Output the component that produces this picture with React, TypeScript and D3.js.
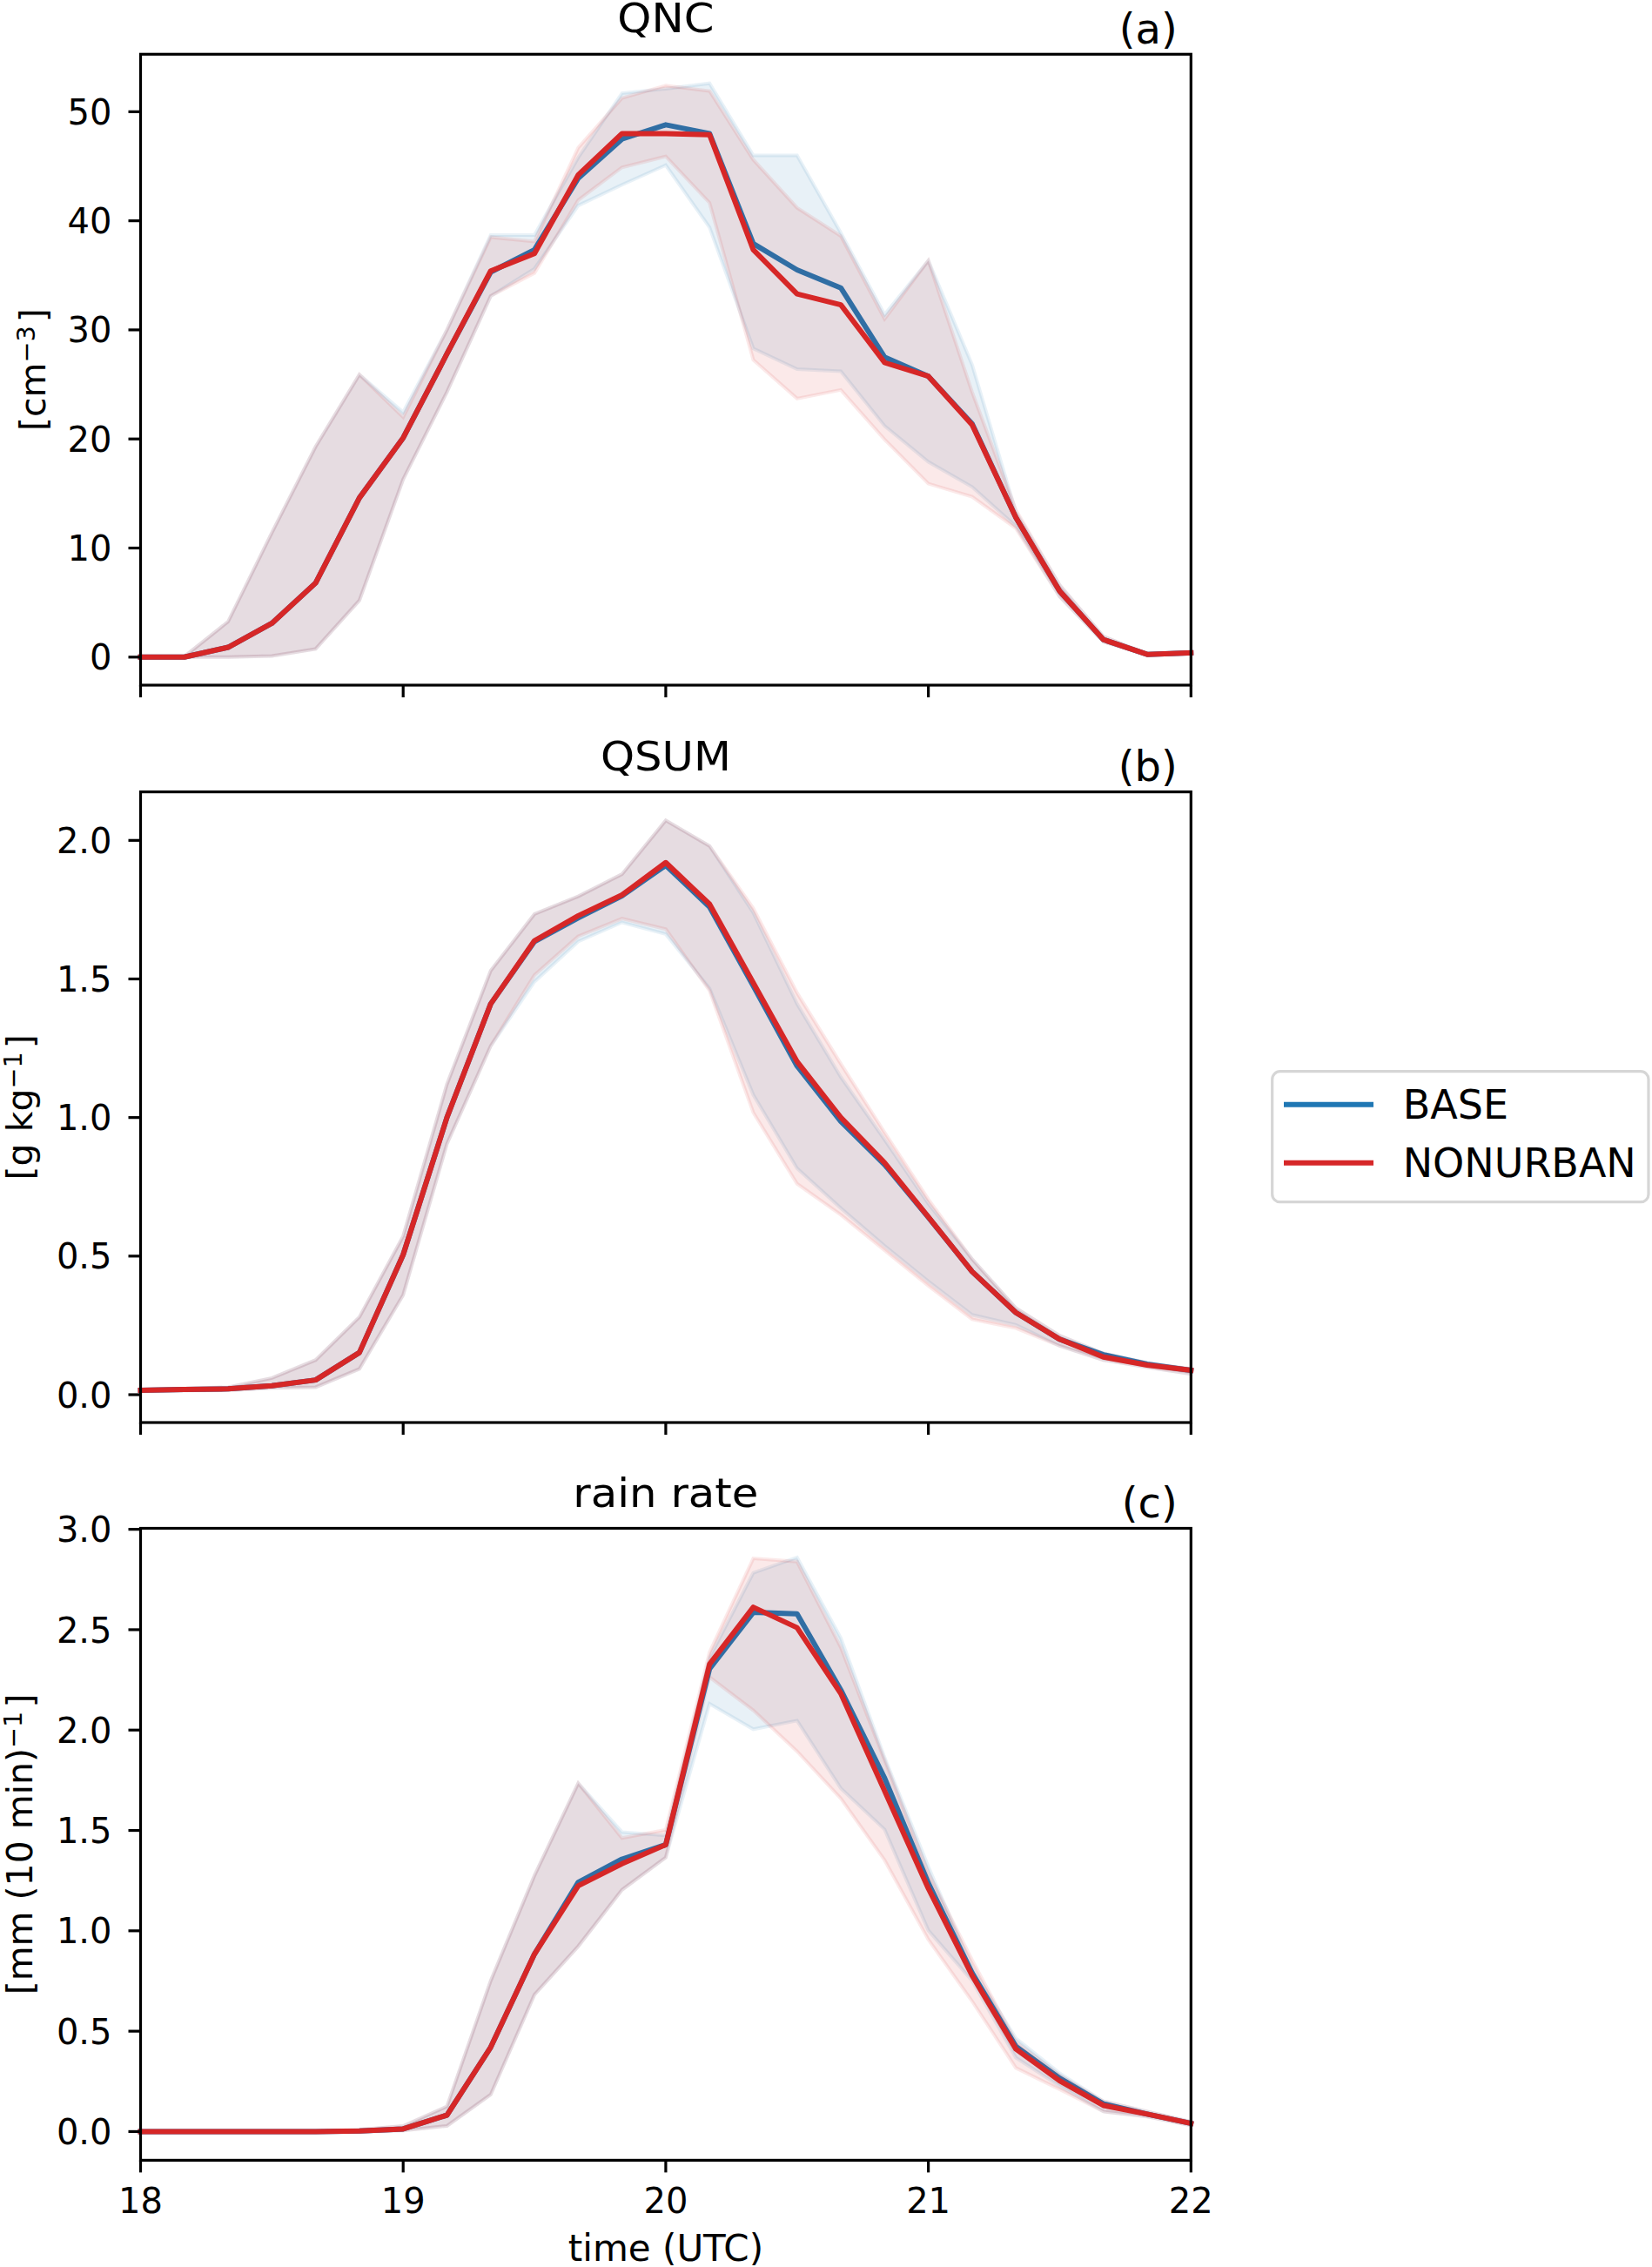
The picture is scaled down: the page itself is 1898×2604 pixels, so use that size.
import React from 'react';
import * as d3 from 'd3';

// ---------- data (10-minute steps from 18:00 UTC) ----------
const minutes = [0, 10, 20, 30, 40, 50, 60, 70, 80, 90, 100, 110, 120, 130, 140, 150, 160, 170, 180, 190, 200, 210, 220, 230, 240];

const seriesNames = ['BASE', 'NONURBAN'];
const seriesColors = ['#1f77b4', '#d62728'];

// QNC [cm^-3]
const qncBase = [0, 0, 0.9, 3.1, 6.8, 14.6, 20.1, 27.8, 35.3, 37.35, 43.9, 47.5, 48.8, 48.0, 37.9, 35.5, 33.85, 27.5, 25.75, 21.4, 12.8, 6.05, 1.6, 0.25, 0.4];
const qncNon = [0, 0, 0.9, 3.1, 6.8, 14.6, 20.1, 27.8, 35.4, 37.0, 44.2, 48.0, 48.0, 47.9, 37.35, 33.3, 32.3, 27.0, 25.75, 21.3, 12.8, 6.05, 1.6, 0.25, 0.4];
const qncBaseHi = [0, 0.05, 3.25, 11.4, 19.3, 25.9, 22.45, 30.0, 38.7, 38.7, 45.8, 51.7, 52.1, 52.6, 46.0, 46.0, 38.9, 31.4, 36.35, 26.8, 13.3, 6.6, 1.9, 0.3, 0.45];
const qncBaseLo = [0, 0, 0, 0.1, 0.75, 5.2, 16.3, 24.3, 33.1, 35.6, 41.4, 43.3, 45.1, 39.4, 28.3, 26.4, 26.2, 21.2, 17.9, 15.6, 12.0, 5.55, 1.4, 0.2, 0.35];
const qncNonHi = [0, 0.05, 3.25, 11.4, 19.3, 25.9, 22.0, 30.0, 38.5, 38.1, 46.7, 51.25, 52.4, 51.9, 45.6, 41.2, 38.6, 31.0, 36.35, 24.3, 13.5, 6.6, 1.9, 0.3, 0.45];
const qncNonLo = [0, 0, 0, 0.1, 0.75, 5.2, 16.3, 24.3, 33.1, 35.2, 41.9, 44.9, 45.9, 41.65, 27.25, 23.7, 24.5, 19.95, 15.9, 14.7, 11.8, 5.55, 1.4, 0.2, 0.35];

// QSUM [g kg^-1]
const qsumBase = [0.016, 0.019, 0.021, 0.032, 0.053, 0.152, 0.505, 1.0, 1.41, 1.635, 1.72, 1.8, 1.91, 1.76, 1.475, 1.186, 0.986, 0.83, 0.64, 0.444, 0.296, 0.2, 0.144, 0.11, 0.088];
const qsumNon = [0.016, 0.019, 0.021, 0.032, 0.053, 0.152, 0.505, 1.0, 1.41, 1.638, 1.728, 1.803, 1.92, 1.77, 1.486, 1.202, 1.0, 0.837, 0.641, 0.444, 0.296, 0.2, 0.136, 0.107, 0.088];
const qsumBaseHi = [0.02, 0.022, 0.027, 0.06, 0.125, 0.28, 0.572, 1.12, 1.53, 1.734, 1.798, 1.878, 2.072, 1.98, 1.739, 1.41, 1.146, 0.92, 0.689, 0.489, 0.3125, 0.213, 0.149, 0.115, 0.093];
const qsumBaseLo = [0.012, 0.015, 0.016, 0.024, 0.027, 0.093, 0.36, 0.905, 1.258, 1.49, 1.635, 1.704, 1.662, 1.466, 1.082, 0.817, 0.673, 0.537, 0.409, 0.288, 0.252, 0.176, 0.125, 0.099, 0.075];
const qsumNonHi = [0.02, 0.022, 0.027, 0.06, 0.125, 0.28, 0.572, 1.12, 1.53, 1.734, 1.798, 1.878, 2.072, 1.98, 1.755, 1.45, 1.194, 0.946, 0.705, 0.489, 0.3125, 0.213, 0.149, 0.115, 0.093];
const qsumNonLo = [0.012, 0.015, 0.016, 0.024, 0.027, 0.093, 0.36, 0.905, 1.258, 1.514, 1.654, 1.718, 1.68, 1.458, 1.018, 0.761, 0.649, 0.521, 0.393, 0.272, 0.24, 0.176, 0.125, 0.099, 0.075];

// rain rate [mm (10 min)^-1]
const rainBase = [0, 0, 0, 0, 0, 0.003, 0.013, 0.082, 0.42, 0.884, 1.242, 1.357, 1.429, 2.305, 2.586, 2.579, 2.2, 1.761, 1.237, 0.79, 0.424, 0.266, 0.138, 0.087, 0.041];
const rainNon = [0, 0, 0, 0, 0, 0.003, 0.013, 0.082, 0.42, 0.884, 1.224, 1.334, 1.429, 2.328, 2.612, 2.51, 2.182, 1.697, 1.211, 0.777, 0.411, 0.253, 0.13, 0.087, 0.041];
const rainBaseHi = [0, 0, 0, 0, 0, 0.01, 0.028, 0.125, 0.751, 1.275, 1.735, 1.492, 1.475, 2.361, 2.783, 2.86, 2.458, 1.863, 1.319, 0.815, 0.465, 0.291, 0.151, 0.1, 0.049];
const rainBaseLo = [0, 0, 0, 0, 0, 0, 0.005, 0.028, 0.184, 0.682, 0.923, 1.204, 1.365, 2.131, 2.004, 2.047, 1.71, 1.505, 1.002, 0.751, 0.368, 0.227, 0.1, 0.074, 0.031];
const rainNonHi = [0, 0, 0, 0, 0, 0.01, 0.028, 0.125, 0.751, 1.275, 1.735, 1.462, 1.503, 2.387, 2.855, 2.839, 2.412, 1.85, 1.288, 0.854, 0.445, 0.279, 0.151, 0.1, 0.049];
const rainNonLo = [0, 0, 0, 0, 0, 0, 0.005, 0.028, 0.184, 0.682, 0.923, 1.204, 1.365, 2.264, 2.098, 1.894, 1.659, 1.352, 0.956, 0.649, 0.317, 0.21, 0.1, 0.074, 0.031];

const xTicks = [18, 19, 20, 21, 22];
const qncTicks = [0, 10, 20, 30, 40, 50];
const qsumTicks = [0, 0.5, 1.0, 1.5, 2.0];
const rainTicks = [0, 0.5, 1.0, 1.5, 2.0, 2.5, 3.0];

const titles = ['QNC', 'QSUM', 'rain rate'];
const panelLetters = ['(a)', '(b)', '(c)'];

// ---------- layout ----------
const W = 1898;
const H = 2604;
const X0 = 161.5;
const X1 = 1368.3;
const FONT = "'DejaVu Sans', 'Liberation Sans', sans-serif";

type Panel = {
  top: number;
  bottom: number;
  domain: [number, number];
  ticks: number[];
  fmt: (v: number) => string;
  lines: number[][];
  his: number[][];
  los: number[][];
  ylabel: React.ReactNode;
  ylabelX: number;
};

const SUP = (s: string) => (
  <>
    <tspan dy="-0.42em" fontSize="0.7em">{s}</tspan>
    <tspan dy="0.3em">{'\u200A'}</tspan>
  </>
);

const panels: Panel[] = [
  {
    top: 62.3, bottom: 787, domain: [-2.57, 55.27], ticks: qncTicks, fmt: (v) => d3.format('d')(v),
    lines: [qncBase, qncNon], his: [qncBaseHi, qncNonHi], los: [qncBaseLo, qncNonLo],
    ylabel: (<>[cm{SUP('\u22123')}]</>), ylabelX: 52,
  },
  {
    top: 909.6, bottom: 1634, domain: [-0.1005, 2.175], ticks: qsumTicks, fmt: (v) => d3.format('.1f')(v),
    lines: [qsumBase, qsumNon], his: [qsumBaseHi, qsumNonHi], los: [qsumBaseLo, qsumNonLo],
    ylabel: (<>[g kg{SUP('\u22121')}]</>), ylabelX: 37,
  },
  {
    top: 1755.5, bottom: 2481.4, domain: [-0.143, 3.005], ticks: rainTicks, fmt: (v) => d3.format('.1f')(v),
    lines: [rainBase, rainNon], his: [rainBaseHi, rainNonHi], los: [rainBaseLo, rainNonLo],
    ylabel: (<>[mm (10 min){SUP('\u22121')}]</>), ylabelX: 37,
  },
];

export default function App() {
  const x = d3.scaleLinear().domain([18, 22]).range([X0, X1]);
  const hours = minutes.map((m) => 18 + m / 60);

  return (
    <svg
      width={W}
      height={H}
      viewBox={`0 0 ${W} ${H}`}
      style={{ position: 'absolute', left: 0, top: 0, background: '#fff' }}
      fontFamily={FONT}
    >
      <rect x={0} y={0} width={W} height={H} fill="#fff" />
      {panels.map((p, pi) => {
        const y = d3.scaleLinear().domain(p.domain).range([p.bottom, p.top]);
        const line = d3.line<number>().x((_, i) => x(hours[i])).y((v) => y(v));
        const area = (hi: number[], lo: number[]) =>
          d3.area<number>().x((_, i) => x(hours[i])).y0((_, i) => y(lo[i])).y1((_, i) => y(hi[i]))(hi) || '';
        const cy = (p.top + p.bottom) / 2;
        return (
          <g key={pi}>
            {/* series */}
            {seriesNames.map((name, si) => (
              <g key={name}>
                <path
                  d={line(p.lines[si]) || ''}
                  fill="none"
                  stroke={seriesColors[si]}
                  strokeWidth={6}
                  strokeLinejoin="round"
                  strokeLinecap="square"
                />
                <path
                  d={area(p.his[si], p.los[si])}
                  fill={seriesColors[si]}
                  fillOpacity={0.1}
                  stroke={seriesColors[si]}
                  strokeOpacity={0.1}
                  strokeWidth={4}
                />
              </g>
            ))}
            {/* frame */}
            <rect
              x={X0}
              y={p.top}
              width={X1 - X0}
              height={p.bottom - p.top}
              fill="none"
              stroke="#000"
              strokeWidth={3.2}
            />
            {/* y ticks */}
            {p.ticks.map((t) => (
              <g key={t}>
                <line x1={X0 - 14} x2={X0} y1={y(t)} y2={y(t)} stroke="#000" strokeWidth={3.2} />
                <text x={128.5} y={y(t)} dy="0.364em" textAnchor="end" fontSize={40} fill="#000">
                  {p.fmt(t)}
                </text>
              </g>
            ))}
            {/* x ticks */}
            {xTicks.map((t) => (
              <g key={t}>
                <line x1={x(t)} x2={x(t)} y1={p.bottom} y2={p.bottom + 14} stroke="#000" strokeWidth={3.2} />
                {pi === 2 && (
                  <text x={x(t)} y={2541.5} textAnchor="middle" fontSize={40} fill="#000">
                    {t}
                  </text>
                )}
              </g>
            ))}
            {/* title & letter */}
            <text
              transform={`translate(${(X0 + X1) / 2},${p.top - 25}) scale(1.07,1)`}
              textAnchor="middle"
              fontSize={46.5}
              fill="#000"
            >
              {titles[pi]}
            </text>
            <text x={1352.7} y={p.top - 12.3} textAnchor="end" fontSize={48} fill="#000">
              {panelLetters[pi]}
            </text>
            {/* y label */}
            <text
              transform={`translate(${p.ylabelX},${cy}) rotate(-90)`}
              textAnchor="middle"
              fontSize={41}
              fill="#000"
            >
              {p.ylabel}
            </text>
          </g>
        );
      })}
      {/* x label */}
      <text x={(X0 + X1) / 2} y={2597} textAnchor="middle" fontSize={42} fill="#000">
        time (UTC)
      </text>
      {/* legend */}
      <g>
        <rect x={1461.7} y={1230.7} width={432.3} height={150} rx={9} fill="#fff" stroke="#d6d6d6" strokeWidth={3.2} />
        {seriesNames.map((name, si) => {
          const ly = 1268.7 + si * 67;
          return (
            <g key={name}>
              <line x1={1478} x2={1575} y1={ly} y2={ly} stroke={seriesColors[si]} strokeWidth={6} strokeLinecap="square" />
              <text x={1611.7} y={ly + 16.5} fontSize={46} fill="#000">
                {name}
              </text>
            </g>
          );
        })}
      </g>
    </svg>
  );
}
